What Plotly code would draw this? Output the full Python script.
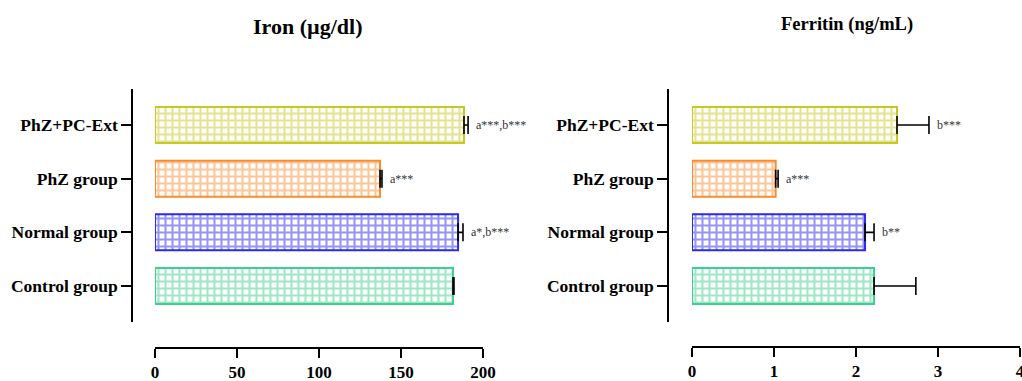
import plotly.graph_objects as go

groups = ["Control group", "Normal group", "PhZ group", "PhZ+PC-Ext"]
colors = ["#3ccf90", "#2a2af2", "#fb8b2c", "#c8c822"]

iron_values = [181.7, 184.8, 137.2, 188.4]
iron_err = [0.6, 3.0, 1.2, 2.5]
iron_sig = ["", "a*,b***", "a***", "a***,b***"]

ferritin_values = [2.22, 2.11, 1.02, 2.50]
ferritin_err = [0.51, 0.11, 0.03, 0.39]
ferritin_sig = ["", "b**", "a***", "b***"]

iron_ticks = [0, 50, 100, 150, 200]
ferritin_ticks = [0, 1, 2, 3, 4]

FONT = "Liberation Serif"
W, H = 1022, 381

fig = go.Figure()

def add_panel(values, err, xaxis, yaxis):
    fig.add_trace(go.Bar(
        x=values, y=groups, orientation="h", width=0.67,
        xaxis=xaxis, yaxis=yaxis,
        marker=dict(
            color="white",
            line=dict(color=colors, width=2),
            pattern=dict(shape="+", fgcolor=colors, bgcolor="white", size=7, solidity=0.5),
        ),
        error_x=dict(type="data", symmetric=False, array=err, arrayminus=[0] * len(err),
                     color="black", thickness=1.6, width=9),
        showlegend=False,
    ))

add_panel(iron_values, iron_err, "x", "y")
add_panel(ferritin_values, ferritin_err, "x2", "y2")

def px_x(p):
    return p / W

def px_y(p):
    return 1 - p / H

axis_common = dict(showline=True, linecolor="black", linewidth=1.5, ticks="outside",
                   tickwidth=1.5, tickcolor="black", showgrid=False, zeroline=False,
                   automargin=False, ticklabeloverflow="allow")
xtickfont = dict(family=FONT, size=17, color="black", weight="bold")
ytickfont = dict(family=FONT, size=17.5, color="black", weight="bold")

ydom = [px_y(322), px_y(89)]
fig.update_layout(
    width=W, height=H, margin=dict(l=0, r=0, t=0, b=0, autoexpand=False),
    paper_bgcolor="white", plot_bgcolor="white",
    xaxis=dict(domain=[px_x(155), px_x(483)], anchor="free", position=px_y(348),
               range=[0, 200], tickvals=iron_ticks, ticklen=9, tickfont=xtickfont, **axis_common),
    yaxis=dict(domain=ydom, anchor="free", position=px_x(132),
               range=[-0.67, 3.67], categoryorder="array", categoryarray=groups, ticklen=10,
               tickfont=ytickfont, **axis_common),
    xaxis2=dict(domain=[px_x(692), px_x(1020)], anchor="free", position=px_y(347),
                range=[0, 4], tickvals=ferritin_ticks, ticklen=9, tickfont=xtickfont, **axis_common),
    yaxis2=dict(domain=ydom, anchor="free", position=px_x(668),
                range=[-0.67, 3.67], categoryorder="array", categoryarray=groups, ticklen=10,
                tickfont=ytickfont, **axis_common),
)

annotations = [
    dict(text="Iron (µg/dl)", x=px_x(307), y=px_y(26), xref="paper", yref="paper",
         xanchor="center", yanchor="middle", showarrow=False,
         font=dict(family=FONT, size=22, color="black", weight="bold")),
    dict(text="Ferritin (ng/mL)", x=px_x(847), y=px_y(25), xref="paper", yref="paper",
         xanchor="center", yanchor="middle", showarrow=False,
         font=dict(family=FONT, size=18.5, color="black", weight="bold")),
]
for vals, errs, sigs, xr, yr in [(iron_values, iron_err, iron_sig, "x", "y"),
                                 (ferritin_values, ferritin_err, ferritin_sig, "x2", "y2")]:
    for g, v, e, s in zip(groups, vals, errs, sigs):
        if s:
            annotations.append(dict(text=s, x=v + e, y=g, xref=xr, yref=yr, xanchor="left",
                                    yanchor="middle", xshift=6, showarrow=False,
                                    font=dict(family=FONT, size=12, color="#333333")))
fig.update_layout(annotations=annotations)

fig.write_html("out.html")
